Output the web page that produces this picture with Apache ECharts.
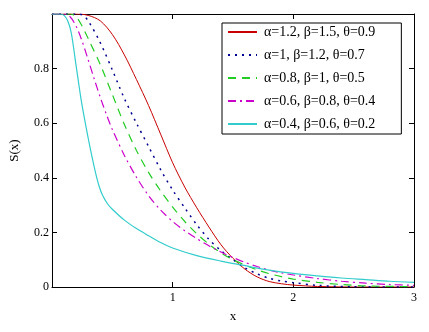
<!DOCTYPE html>
<html>
<head>
<meta charset="utf-8">
<script src="https://cdn.jsdelivr.net/npm/echarts@6/dist/echarts.min.js"></script>
<style>
  html, body { margin: 0; padding: 0; background: #fff; }
  #main { width: 429px; height: 332px; }
</style>
</head>
<body>
<div id="main"></div>
<script>
// legend names
var names = [
  'α=1.2, β=1.5, θ=0.9',
  'α=1, β=1.2, θ=0.7',
  'α=0.8, β=1, θ=0.5',
  'α=0.6, β=0.8, θ=0.4',
  'α=0.4, β=0.6, θ=0.2'
];

// values
var xRed = [0, 0.2, 0.3, 0.4, 0.5, 0.6, 0.7, 0.8, 0.9, 1.0, 1.1, 1.2, 1.3, 1.4, 1.5, 1.6, 1.7, 1.8, 1.9, 2.0, 2.2, 2.5, 3.0];
var yRed = [1, 1, 0.995, 0.975, 0.925, 0.85, 0.76, 0.665, 0.56, 0.455, 0.366, 0.29, 0.22, 0.155, 0.105, 0.065, 0.037, 0.02, 0.012, 0.007, 0.002, 0, 0];

var xBlue = [0, 0.2, 0.25, 0.3, 0.4, 0.5, 0.6, 0.7, 0.8, 0.9, 1.0, 1.1, 1.2, 1.3, 1.4, 1.5, 1.6, 1.7, 1.8, 1.9, 2.0, 2.2, 2.5, 3.0];
var yBlue = [1, 1, 0.997, 0.975, 0.895, 0.795, 0.69, 0.6, 0.515, 0.43, 0.355, 0.29, 0.228, 0.175, 0.133, 0.1, 0.07, 0.048, 0.032, 0.022, 0.016, 0.006, 0.001, 0];

var xGreen = [0, 0.15, 0.2, 0.25, 0.3, 0.4, 0.5, 0.6, 0.7, 0.8, 0.9, 1.0, 1.1, 1.2, 1.3, 1.4, 1.5, 1.6, 1.7, 1.8, 1.9, 2.0, 2.2, 2.4, 2.6, 3.0];
var yGreen = [1, 1, 0.99, 0.955, 0.91, 0.815, 0.705, 0.595, 0.5, 0.42, 0.352, 0.293, 0.24, 0.195, 0.157, 0.125, 0.1, 0.08, 0.063, 0.049, 0.038, 0.029, 0.017, 0.009, 0.004, 0.001];

var xMagenta = [0, 0.1, 0.15, 0.2, 0.25, 0.3, 0.35, 0.4, 0.45, 0.5, 0.6, 0.7, 0.8, 0.9, 1.0, 1.1, 1.2, 1.3, 1.4, 1.5, 1.6, 1.7, 1.8, 1.9, 2.0, 2.2, 2.4, 2.6, 2.8, 3.0];
var yMagenta = [1, 1, 0.99, 0.955, 0.9, 0.832, 0.762, 0.695, 0.633, 0.577, 0.482, 0.402, 0.335, 0.282, 0.24, 0.206, 0.177, 0.151, 0.128, 0.108, 0.09, 0.075, 0.062, 0.052, 0.044, 0.031, 0.021, 0.014, 0.009, 0.006];

var xCyan = [0, 0.06, 0.1, 0.13, 0.16, 0.2, 0.24, 0.27, 0.3, 0.33, 0.36, 0.39, 0.42, 0.46, 0.5, 0.6, 0.7, 0.8, 0.9, 1.0, 1.2, 1.4, 1.6, 1.8, 2.0, 2.2, 2.4, 2.6, 2.8, 3.0];
var yCyan = [1, 1, 0.995, 0.975, 0.93, 0.81, 0.69, 0.615, 0.545, 0.48, 0.42, 0.37, 0.335, 0.305, 0.285, 0.245, 0.214, 0.188, 0.163, 0.143, 0.115, 0.095, 0.078, 0.062, 0.05, 0.041, 0.033, 0.027, 0.021, 0.017];

function pairs(xs, ys) {
  return xs.map(function (x, i) { return [x, ys[i]]; });
}

var serif = '"Liberation Serif", "Times New Roman", serif';
var myChart = echarts.init(document.getElementById('main'));

function makeLine(name, data, color, type, width) {
  return {
    name: name,
    type: 'line',
    data: data,
    symbol: 'none',
    smooth: 0.3,
    xAxisIndex: 0,
    yAxisIndex: 0,
    lineStyle: { color: color, type: type, width: width },
    itemStyle: { color: color },
    emphasis: { disabled: true },
    z: 3
  };
}

var axisLine = { show: true, onZero: false, lineStyle: { color: '#000', width: 1 } };
var tick = { show: true, inside: true, length: 5, lineStyle: { color: '#000' } };

var option = {
  animation: false,
  backgroundColor: '#fff',
  grid: { left: 49, right: 15, top: 14, bottom: 45 },
  legend: {
    orient: 'vertical',
    left: 222,
    top: 23,
    padding: [2, 26, 3, 5],
    itemGap: 9,
    itemWidth: 29,
    itemHeight: 14,
    backgroundColor: '#fff',
    borderColor: '#000',
    borderWidth: 1,
    borderRadius: 0,
    selectedMode: false,
    itemStyle: { opacity: 0, borderWidth: 0 },
    data: names,
    textStyle: {
      fontFamily: serif,
      fontSize: 14,
      color: '#000',
      padding: [0, 0, 0, 2]
    }
  },
  xAxis: [
    {
      type: 'value', min: 0, max: 3, interval: 1,
      name: 'x', nameLocation: 'middle', nameGap: 23,
      nameTextStyle: { fontFamily: serif, fontSize: 13, color: '#000' },
      axisLine: axisLine, axisTick: tick, splitLine: { show: false },
      axisLabel: { showMinLabel: false, margin: 5, fontFamily: serif, fontSize: 12, color: '#000' }
    },
    {
      type: 'value', min: 0, max: 3, interval: 1, position: 'top',
      axisLine: axisLine, axisTick: tick, splitLine: { show: false },
      axisLabel: { show: false }
    }
  ],
  yAxis: [
    {
      type: 'value', min: 0, max: 1, interval: 0.2,
      name: 'S(x)', nameLocation: 'middle', nameGap: 31, nameRotate: 90,
      nameTextStyle: { fontFamily: serif, fontSize: 13, color: '#000' },
      axisLine: axisLine, axisTick: tick, splitLine: { show: false },
      axisLabel: { showMaxLabel: false, margin: 3, fontFamily: serif, fontSize: 12, color: '#000' }
    },
    {
      type: 'value', min: 0, max: 1, interval: 0.2, position: 'right',
      axisLine: axisLine, axisTick: tick, splitLine: { show: false },
      axisLabel: { show: false }
    }
  ],
  series: [
    makeLine(names[0], pairs(xRed, yRed), '#c80000', 'solid', 1),
    makeLine(names[1], pairs(xBlue, yBlue), '#000090', [2, 5], 1.5),
    makeLine(names[2], pairs(xGreen, yGreen), '#22cc22', [8, 6], 1.2),
    makeLine(names[3], pairs(xMagenta, yMagenta), '#cc00cc', [8, 4, 2, 4], 1.2),
    makeLine(names[4], pairs(xCyan, yCyan), '#33cccc', 'solid', 1.2)
  ]
};

myChart.setOption(option, true);
window.addEventListener('resize', function () {
  myChart.resize();
});
</script>
</body>
</html>
